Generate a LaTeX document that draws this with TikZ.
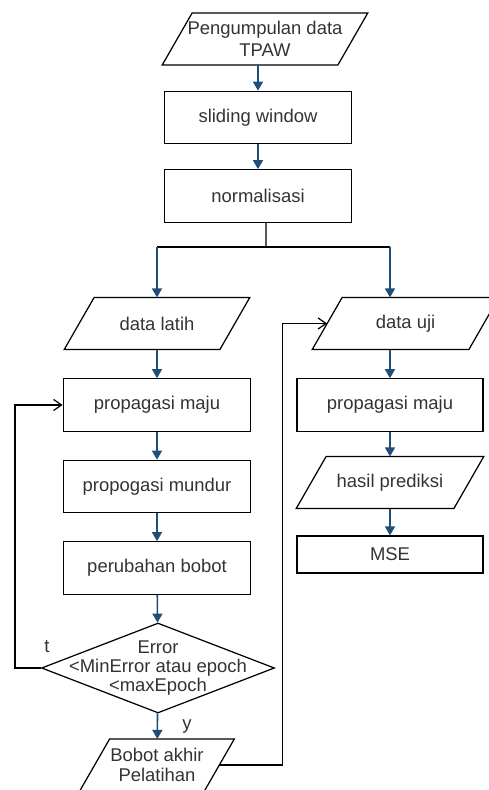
\documentclass[tikz,border=0pt]{standalone}
\usepackage{fontspec}
\setmainfont{Liberation Sans}
\usetikzlibrary{shapes.geometric,arrows.meta}

\definecolor{garis}{HTML}{1F4E79}

\begin{document}
\begin{tikzpicture}[x=0.02cm, y=-0.02cm,
    font=\fontsize{10.5}{11}\selectfont, text=black!80,
    proses/.style={draw, line width=0.7pt, minimum width=3.75cm, minimum height=1.05cm, inner sep=0pt},
    masukan/.style={minimum width=3.1cm, minimum height=1.03cm, inner sep=0pt, align=center},
    keputusan/.style={draw, line width=0.7pt, diamond, minimum width=4.66cm, minimum height=1.8cm, inner sep=0pt},
    alur/.style={draw=garis, line width=0.9pt, -{Triangle[width=0.2cm,length=0.18cm]}},
    balik/.style={draw, line width=0.7pt, -{Straight Barb[width=0.22cm,length=0.16cm]}}]
    \useasboundingbox (0,0) rectangle (489,790);

    % jalur utama
    \node[masukan, minimum width=3.5cm] at (265, 39)(kumpul) {Pengumpulan data\\[1.5pt]TPAW};
    \node[proses] at (258, 117.5)(sliding) {sliding window};
    \node[proses] at (258, 196)(norm) {normalisasi};
    \coordinate (cabang) at (266, 247);

    % pelatihan
    \node[masukan] at (157, 323.5)(latih) {data latih};
    \node[proses] at (157, 405)(majukiri) {propagasi maju};
    \node[proses] at (157, 486.5)(mundur) {propogasi mundur};
    \node[proses] at (157, 568)(bobot) {perubahan bobot};
    \node[keputusan, label={[align=center]center:Error\\<MinError atau epoch\\<maxEpoch}] at (158, 668)(cek) {};
    \node[masukan, minimum width=2.48cm] at (157, 765)(akhir) {Bobot akhir\\Pelatihan};
    \node at (47, 647)(tidak) {t};
    \node at (187, 727)(ya) {y};

    % pengujian
    \node[masukan, minimum width=3.12cm] at (405.5, 323.5)(uji) {data uji};
    \node[proses, minimum width=3.72cm] at (390, 405)(majukanan) {propagasi maju};
    \node[masukan, minimum width=3.14cm] at (390, 482.5)(hasil) {hasil prediksi};
    \node[proses, minimum width=3.72cm, minimum height=0.74cm] at (390, 554.5)(mse) {MSE};

    % jajaran genjang untuk data
    \foreach \n in {kumpul, latih, uji, hasil, akhir}
        \draw[line width=0.7pt] ([xshift=0.3cm]\n.north west) -- ([xshift=0.3cm]\n.north east)
            -- ([xshift=-0.3cm]\n.south east) -- ([xshift=-0.3cm]\n.south west) -- cycle;

    \draw[alur] (kumpul.south -| sliding.north) -- (sliding.north);
    \foreach \a/\b in {sliding/norm, latih/majukiri, majukiri/mundur, mundur/bobot, bobot/cek,
        cek/akhir, majukanan/hasil, hasil/mse}
        \draw[alur] (\a) -- (\b);
    \draw[draw=black, line width=0.7pt] ([xshift=0.16cm]norm.south) -- (cabang);
    \draw[draw=black, line width=0.7pt] (latih.north |- cabang) -- (majukanan.north |- cabang);
    \draw[alur] (latih.north |- cabang) -- (latih.north);
    \draw[alur] (majukanan.north |- cabang) -- (majukanan.north |- uji.north);
    \draw[alur] (uji.south -| majukanan.north) -- (majukanan.north);

    \draw[balik] (cek.west) -- ++(-26,0) |- (majukiri.west);
    \draw[balik] (akhir.east) -- ++(63,0) |- (uji.west);
\end{tikzpicture}
\end{document}
